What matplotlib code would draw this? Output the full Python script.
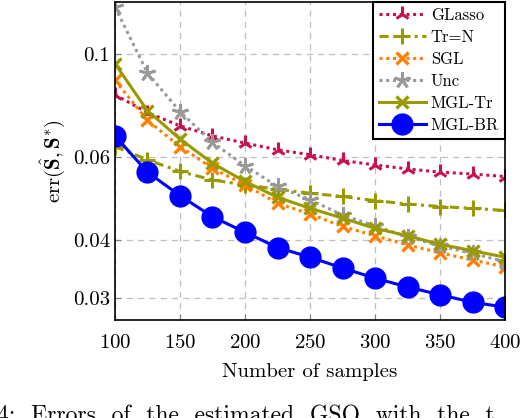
import numpy as np
import matplotlib.pyplot as plt
from matplotlib.ticker import FixedLocator, NullLocator

plt.rcParams['font.family'] = 'cmr10'
plt.rcParams['mathtext.fontset'] = 'cm'
plt.rcParams['axes.formatter.use_mathtext'] = True

samples = [100, 125, 150, 175, 200, 225, 250, 275, 300, 325, 350, 375, 400]
glasso = [0.0817, 0.0748, 0.0701, 0.0667, 0.0644, 0.0623, 0.0608, 0.0591, 0.0578, 0.0567, 0.0558, 0.0553, 0.0546]
tr_n = [0.0633, 0.0593, 0.0560, 0.0537, 0.0524, 0.0513, 0.0503, 0.0495, 0.0485, 0.0477, 0.0471, 0.0467, 0.0462]
sgl = [0.0877, 0.0720, 0.0633, 0.0569, 0.0524, 0.0479, 0.0454, 0.0427, 0.0408, 0.0390, 0.0375, 0.0362, 0.0350]
unc = [0.1259, 0.0909, 0.0752, 0.0646, 0.0576, 0.0520, 0.0487, 0.0452, 0.0428, 0.0406, 0.0388, 0.0374, 0.0359]
mgl_tr = [0.0952, 0.0755, 0.0657, 0.0583, 0.0533, 0.0493, 0.0467, 0.0445, 0.0423, 0.0408, 0.0391, 0.0379, 0.0367]
mgl_br = [0.0667, 0.0558, 0.0497, 0.0448, 0.0415, 0.0385, 0.0367, 0.0348, 0.0331, 0.0317, 0.0305, 0.0294, 0.0287]
yticks = [0.03, 0.04, 0.06, 0.1]
ytick_labels = ['0.03', '0.04', '0.06', '0.1']

fig = plt.figure(figsize=(5.22, 4.18), dpi=100)
ax = fig.add_axes([115/522, 98/418, 390/522, 318/418])

lw = 2.2
ax.plot(samples, glasso, color='#c8114f', ls=(0, (1, 1.2)), lw=lw, marker='2', ms=11, mew=2.2, label='GLasso')
ax.plot(samples, tr_n, color='#999900', ls=(0, (3, 1.5, 1, 1.5)), lw=lw, marker='+', ms=11, mew=2.2, label='Tr=N')
ax.plot(samples, sgl, color='#ff8000', ls=(0, (1, 1.2)), lw=lw, marker='x', ms=9, mew=2.4, label='SGL')
ax.plot(samples, unc, color='#999999', ls=(0, (1, 1.2)), lw=lw, marker=(5, 2, 0), ms=12, mew=2.0, label='Unc')
ax.plot(samples, mgl_tr, color='#999900', ls='-', lw=lw, marker='x', ms=9, mew=2.4, label='MGL-Tr')
ax.plot(samples, mgl_br, color='#0000ff', ls='-', lw=lw, marker='o', ms=15, label='MGL-BR')

ax.set_yscale('log')
ax.set_xlim(100, 400)
ax.set_ylim(0.02694, 0.129)
ax.set_xticks([100, 150, 200, 250, 300, 350, 400])
ax.yaxis.set_major_locator(FixedLocator(yticks))
ax.yaxis.set_minor_locator(NullLocator())
ax.set_yticklabels(ytick_labels)
ax.tick_params(labelsize=15, direction='in', length=4, color='#808080')
ax.tick_params(axis='x', pad=10)
ax.grid(True, color='#bfbfbf', ls=(0, (5, 4)), lw=0.9)
for s in ax.spines.values():
    s.set_linewidth(1.2)

ax.set_xlabel('Number of samples', fontsize=15, labelpad=8)
ax.set_ylabel(r'$\mathrm{err}(\hat{\mathbf{S}}, \mathbf{S}^{*})$', fontsize=15, labelpad=4)

leg = ax.legend(loc='upper right', fontsize=12, fancybox=False, framealpha=1,
                edgecolor='black', borderaxespad=0, handlelength=2.8, labelspacing=0.4,
                handletextpad=0.3, borderpad=0.35)
leg.get_frame().set_linewidth(1.5)

fig.text(-0.005, 13/418, '4:  Errors  of  the  estimated  GSO  with  the  t', fontsize=17,
         ha='left', va='top')

fig.savefig('out.png', dpi=100)
